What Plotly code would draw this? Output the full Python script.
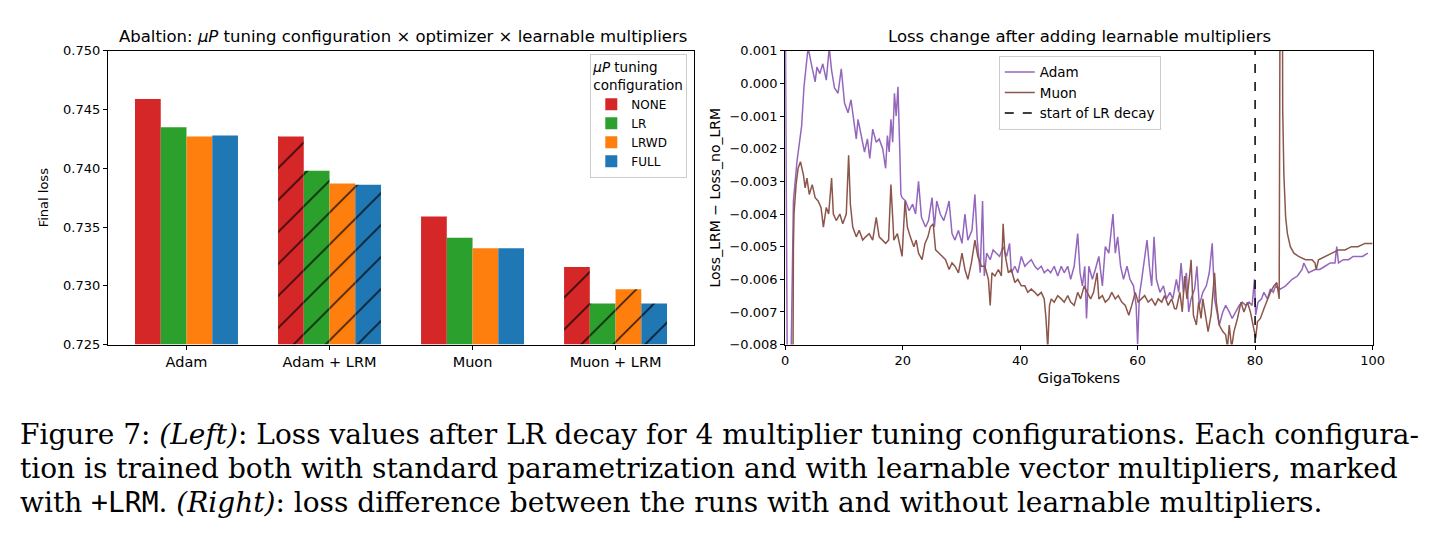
import plotly.graph_objects as go

# ---------------- data ----------------
groups = ["Adam", "Adam + LRM", "Muon", "Muon + LRM"]
configs = ["NONE", "LR", "LRWD", "FULL"]
config_colors = ["#d62728", "#2ca02c", "#ff7f0e", "#1f77b4"]
loss_none = [0.7459, 0.7427, 0.7359, 0.7316]
loss_lr = [0.7435, 0.7398, 0.7341, 0.7285]
loss_lrwd = [0.7427, 0.7387, 0.7332, 0.7297]
loss_full = [0.7428, 0.7386, 0.7332, 0.7285]
group_hatch = ["", "/", "", "/"]

adam_x = [0.0, 0.45, 0.7, 1.2, 1.4, 2.0, 2.5, 2.8, 3.2, 3.65, 3.9, 4.5, 5.1, 5.4, 5.9, 6.4, 7.0, 7.5,
          7.9, 8.4, 9.0, 9.55, 10.1, 10.7, 11.2, 11.8, 12.1, 12.4, 12.9, 13.5, 14.0, 14.4, 14.9, 15.5,
          16.0, 16.6, 17.1, 17.4, 17.7, 18.0, 18.3, 18.6, 18.9, 19.2, 19.5, 19.7, 19.9, 20.5, 21.1,
          21.7, 22.2, 22.7, 23.2, 23.9, 24.4, 25.0, 25.4, 25.8, 26.4, 27.0, 27.5, 27.9, 28.4, 28.9,
          29.5, 30.1, 30.6, 31.1, 31.8, 32.3, 32.7, 33.2, 33.6, 33.9, 34.3, 34.9, 35.4, 36.0, 36.5,
          37.1, 37.7, 38.2, 38.5, 39.1, 39.6, 40.2, 40.8, 41.3, 41.9, 42.5, 43.0, 43.6, 44.1, 44.7,
          45.2, 45.8, 46.4, 47.0, 47.5, 48.1, 48.6, 49.2, 49.8, 50.2, 50.6, 51.0, 51.3, 51.7, 52.3,
          52.8, 53.4, 54.0, 54.5, 55.1, 55.5, 55.8, 56.2, 56.6, 57.1, 57.6, 58.2, 58.7, 59.3, 59.75,
          60.0, 60.3, 60.7, 61.3, 61.6, 62.0, 62.4, 62.8, 63.2, 63.8, 64.4, 64.9, 65.5, 66.0, 66.6,
          67.0, 67.4, 67.8, 68.3, 68.7, 69.1, 69.7, 70.1, 70.5, 71.1, 71.7, 72.2, 72.7, 73.1, 73.5,
          73.9, 74.5, 75.0, 75.6, 76.1, 76.7, 77.3, 77.8, 78.4, 79.0, 79.5, 79.9, 80.1, 80.5, 81.1,
          81.5, 82.1, 82.6, 83.1, 83.5, 84.3, 85.2, 86.3, 87.2, 88.0, 88.3, 89.1, 90.2, 91.0, 91.9,
          92.8, 93.6, 93.9, 94.2, 95.0, 95.9, 96.7, 97.5, 98.3, 99.2, 100.0]
adam_y = [0.0030, -0.0120, -0.0120, -0.0060, -0.0036, -0.0024, -0.0017, -0.0013, -0.0001, 0.0008,
          0.0011, 0.00055, 0.00005, 0.0005, 0.0003, 0.0006, 0.0001, 0.0011, 0.0004, -0.00014,
          -0.0003, 0.00045, -0.0006, -0.0009, -0.0005, -0.0013, -0.0017, -0.0011, -0.0016, -0.0021,
          -0.0017, -0.0023, -0.0014, -0.0018, -0.0017, -0.0020, -0.0026, -0.0016, -0.0021, -0.0011,
          -0.0018, -0.0003, -0.0010, -0.0001, -0.0020, -0.0034, -0.0035, -0.0036, -0.0039, -0.0037,
          -0.0040, -0.0030, -0.0041, -0.0044, -0.0042, -0.0035, -0.0044, -0.0036, -0.0040, -0.0042,
          -0.0039, -0.0036, -0.0046, -0.0048, -0.0045, -0.0049, -0.0040, -0.0048, -0.0045, -0.0034,
          -0.0048, -0.0058, -0.0036, -0.0059, -0.0052, -0.0054, -0.0051, -0.0052, -0.0053, -0.0050,
          -0.0053, -0.0049, -0.0058, -0.0056, -0.0058, -0.0053, -0.0056, -0.0055, -0.0054, -0.0056,
          -0.0057, -0.0056, -0.0058, -0.0057, -0.0058, -0.0056, -0.0059, -0.0056, -0.0058, -0.0056,
          -0.0060, -0.0056, -0.0046, -0.0058, -0.0062, -0.0056, -0.0072, -0.0056, -0.0060, -0.0057,
          -0.0053, -0.0062, -0.0050, -0.0052, -0.0046, -0.0040, -0.0052, -0.0047, -0.0056, -0.0060,
          -0.0056, -0.0060, -0.0062, -0.0068, -0.0080, -0.0065, -0.0060, -0.0053, -0.0048, -0.0056,
          -0.0062, -0.0047, -0.0060, -0.0064, -0.0062, -0.0066, -0.0064, -0.0066, -0.0060, -0.0064,
          -0.0055, -0.0064, -0.0058, -0.0070, -0.0066, -0.0063, -0.0056, -0.0068, -0.0064, -0.0062,
          -0.0058, -0.0049, -0.0066, -0.0070, -0.0074, -0.0070, -0.0068, -0.0070, -0.0072, -0.0070,
          -0.0068, -0.0067, -0.0068, -0.0067, -0.0068, -0.0060, -0.0071, -0.0067, -0.0066, -0.0064,
          -0.0066, -0.0063, -0.0064, -0.0062, -0.0063, -0.0062, -0.0060, -0.0059, -0.0057, -0.0055,
          -0.0058, -0.0057, -0.0057, -0.0056, -0.0055, -0.0055, -0.0050, -0.0055, -0.0054, -0.0054,
          -0.0053, -0.0053, -0.0053, -0.0052]

muon_x = [0.0, 1.2, 1.4, 1.5, 1.85, 2.2, 2.6, 3.1, 3.4, 3.7, 4.1, 4.6, 5.1, 5.6, 6.1, 6.5, 7.0, 7.4,
          7.9, 8.2, 8.7, 9.3, 9.8, 10.4, 10.8, 11.1, 11.5, 12.1, 12.6, 13.2, 13.7, 14.3, 14.9, 15.5,
          16.0, 16.6, 17.1, 17.6, 18.0, 18.3, 18.5, 19.1, 19.5, 19.9, 20.4, 20.8, 21.3, 21.9, 22.3,
          22.7, 23.3, 23.8, 24.3, 24.7, 25.2, 25.6, 26.2, 26.7, 27.3, 27.9, 28.4, 28.9, 29.5, 30.1,
          30.6, 31.1, 31.7, 32.3, 32.8, 33.4, 34.0, 34.6, 34.9, 35.2, 35.7, 36.3, 36.8, 37.1, 37.4,
          38.0, 38.5, 39.1, 39.6, 40.2, 40.8, 41.3, 41.9, 42.5, 43.0, 43.6, 44.1, 44.4, 44.7, 45.0,
          45.3, 45.8, 46.4, 47.0, 47.5, 48.1, 48.6, 49.2, 49.8, 50.3, 50.9, 51.4, 52.0, 52.5, 53.1,
          53.4, 54.0, 54.5, 55.1, 55.6, 56.2, 56.7, 57.3, 57.9, 58.5, 59.0, 59.6, 60.1, 60.7, 61.2,
          61.8, 62.4, 63.0, 63.5, 64.1, 64.6, 65.2, 65.8, 66.3, 66.6, 67.2, 67.6, 68.0, 68.4, 68.9,
          69.1, 69.5, 70.0, 70.4, 70.8, 71.1, 71.5, 72.0, 72.5, 73.1, 73.4, 73.9, 74.5, 75.0, 75.3,
          75.6, 76.0, 76.4, 77.0, 77.6, 78.1, 78.7, 79.2, 79.6, 80.1, 80.4, 80.9, 81.5, 82.1, 82.6,
          83.2, 83.7, 84.1, 84.3, 84.6, 84.7, 84.9, 85.2, 85.5, 86.0, 86.6, 87.4, 88.6, 89.7, 90.2,
          90.4, 90.8, 91.9, 93.0, 94.2, 95.3, 96.4, 97.5, 98.7, 100.0]
muon_y = [-0.0150, -0.0150, -0.0050, -0.0040, -0.0031, -0.0026, -0.0024, -0.0028, -0.0032, -0.0029,
          -0.0034, -0.0031, -0.0035, -0.0036, -0.0038, -0.0044, -0.0038, -0.0040, -0.0029, -0.0040,
          -0.0042, -0.0040, -0.0043, -0.0040, -0.0022, -0.0037, -0.0044, -0.0047, -0.0045, -0.0048,
          -0.0047, -0.0046, -0.0048, -0.0041, -0.0047, -0.0048, -0.0049, -0.0048, -0.0031, -0.0041,
          -0.0048, -0.0046, -0.0050, -0.0053, -0.0036, -0.0044, -0.0047, -0.0050, -0.0048, -0.0052,
          -0.0054, -0.0049, -0.0047, -0.0044, -0.0043, -0.0051, -0.0052, -0.0053, -0.0054, -0.0057,
          -0.0055, -0.0056, -0.0058, -0.0052, -0.0057, -0.0060, -0.0055, -0.0048, -0.0053, -0.0056,
          -0.0056, -0.0060, -0.0068, -0.0058, -0.0059, -0.0057, -0.0059, -0.0043, -0.0052, -0.0058,
          -0.0057, -0.0061, -0.0060, -0.0062, -0.0062, -0.0064, -0.0063, -0.0064, -0.0065, -0.0064,
          -0.0066, -0.0072, -0.0081, -0.0068, -0.0066, -0.0067, -0.0065, -0.0066, -0.0067, -0.0065,
          -0.0067, -0.0068, -0.0064, -0.0066, -0.0062, -0.0064, -0.0066, -0.0064, -0.0058, -0.0066,
          -0.0065, -0.0067, -0.0066, -0.0064, -0.0066, -0.0065, -0.0067, -0.0068, -0.0071, -0.0068,
          -0.0064, -0.0067, -0.0066, -0.0065, -0.0067, -0.0066, -0.0068, -0.0066, -0.0067, -0.0065,
          -0.0068, -0.0066, -0.0069, -0.0069, -0.0064, -0.0070, -0.0059, -0.0066, -0.0058, -0.0054,
          -0.0071, -0.0074, -0.0067, -0.0072, -0.0066, -0.0071, -0.0076, -0.0071, -0.0058, -0.0067,
          -0.0074, -0.0076, -0.0077, -0.0081, -0.0074, -0.0081, -0.0076, -0.0072, -0.0067, -0.0070,
          -0.0067, -0.0070, -0.0074, -0.0078, -0.0073, -0.0072, -0.0069, -0.0066, -0.0064, -0.0062,
          -0.0061, -0.0066, 0.0060, 0.0060, -0.0008, -0.0028, -0.0041, -0.0046, -0.0050, -0.0052,
          -0.0053, -0.0054, -0.0054, -0.0055, -0.0057, -0.0054, -0.0053, -0.0052, -0.0051, -0.0051,
          -0.0050, -0.0050, -0.0049, -0.0049]

decay_start = 80

caption_lines = [
    "Figure 7: <i>(Left)</i>: Loss values after LR decay for 4 multiplier tuning configurations. Each configura-",
    "tion is trained both with standard parametrization and with learnable vector multipliers, marked",
    "with <span style='font-family:DejaVu Sans Mono'>+LRM</span>. <i>(Right)</i>: loss difference between the runs with and without learnable multipliers.",
]

# ---------------- figure ----------------
W, H = 1435, 553
fig = go.Figure()
FONT = "DejaVu Sans"

series = [loss_none, loss_lr, loss_lrwd, loss_full]
for name, col, vals in zip(configs, config_colors, series):
    fig.add_trace(go.Bar(
        x=groups, y=[v - 0.725 for v in vals], base=0.725, name=name,
        marker=dict(color=col, line=dict(width=0),
                    pattern=dict(shape=group_hatch, fillmode="overlay", fgcolor="black",
                                 bgcolor=col, size=22.6, solidity=0.055, fgopacity=1)),
        xaxis="x", yaxis="y", legend="legend",
    ))

fig.add_trace(go.Scatter(x=adam_x, y=adam_y, mode="lines", name="Adam",
                         line=dict(color="#9467bd", width=1.5), xaxis="x2", yaxis="y2", legend="legend2"))
fig.add_trace(go.Scatter(x=muon_x, y=muon_y, mode="lines", name="Muon",
                         line=dict(color="#8c564b", width=1.5), xaxis="x2", yaxis="y2", legend="legend2"))
fig.add_trace(go.Scatter(x=[decay_start, decay_start], y=[-0.0085, 0.0015], mode="lines",
                         name="start of LR decay",
                         line=dict(color="black", width=1.5, dash="dash"),
                         xaxis="x2", yaxis="y2", legend="legend2"))

def px_x(p):
    return p / W

def px_y(p):
    return 1 - p / H

axis_common = dict(showline=True, linecolor="black", linewidth=1, mirror=True, ticks="outside",
                   ticklen=4, tickcolor="black", showgrid=False, zeroline=False)
tickfont = dict(family=FONT, size=13, color="black")

fig.update_layout(
    width=W, height=H, margin=dict(l=0, r=0, t=0, b=0),
    paper_bgcolor="white", plot_bgcolor="white",
    font=dict(family=FONT, color="black"),
    barmode="group", bargap=0.28, bargroupgap=0,
    xaxis=dict(domain=[px_x(105), px_x(698)], range=[-0.55, 3.55], anchor="y",
               tickfont=dict(family=FONT, size=14.5, color="black"), **axis_common),
    yaxis=dict(domain=[px_y(347), px_y(45)], range=[0.725, 0.750], dtick=0.005, tickformat=".3f",
               anchor="x", tickfont=tickfont,
               title=dict(text="Final loss", font=dict(size=13), standoff=11), **axis_common),
    xaxis2=dict(domain=[px_x(790), px_x(1384)], range=[0, 100], dtick=20, anchor="y2", tickfont=tickfont,
                title=dict(text="GigaTokens", font=dict(size=14.5), standoff=5), **axis_common),
    yaxis2=dict(domain=[px_y(347), px_y(45)], range=[-0.008, 0.001], dtick=0.001, tickformat=".3f",
                anchor="x2", tickfont=tickfont,
                title=dict(text="Loss_LRM − Loss_no_LRM", font=dict(size=14), standoff=5),
                **axis_common),
    legend=dict(x=px_x(691), y=px_y(48), xanchor="right", yanchor="top",
                bgcolor="rgba(255,255,255,0.8)", bordercolor="#cccccc", borderwidth=1,
                title=dict(text="<i>μP</i> tuning<br>configuration", font=dict(size=13.5)),
                font=dict(size=12), tracegroupgap=0),
    legend2=dict(x=px_x(1006), y=px_y(50), xanchor="left", yanchor="top",
                 bgcolor="rgba(255,255,255,0.8)", bordercolor="#cccccc", borderwidth=1,
                 font=dict(size=13.5)),
)

annotations = [
    dict(text="Abaltion: <i>μP</i> tuning configuration × optimizer × learnable multipliers",
         x=px_x(404), y=px_y(30), xref="paper", yref="paper", xanchor="center", yanchor="middle",
         showarrow=False, font=dict(family=FONT, size=16.5, color="black")),
    dict(text="Loss change after adding learnable multipliers",
         x=px_x(1088), y=px_y(30), xref="paper", yref="paper", xanchor="center", yanchor="middle",
         showarrow=False, font=dict(family=FONT, size=16.5, color="black")),
]
for i, line in enumerate(caption_lines):
    annotations.append(dict(text=line, x=px_x(14), y=px_y(439 + 35 * i), xref="paper", yref="paper",
                            xanchor="left", yanchor="middle", showarrow=False,
                            font=dict(family="DejaVu Serif", size=28, color="black")))
fig.update_layout(annotations=annotations)

fig.write_html("out.html")
